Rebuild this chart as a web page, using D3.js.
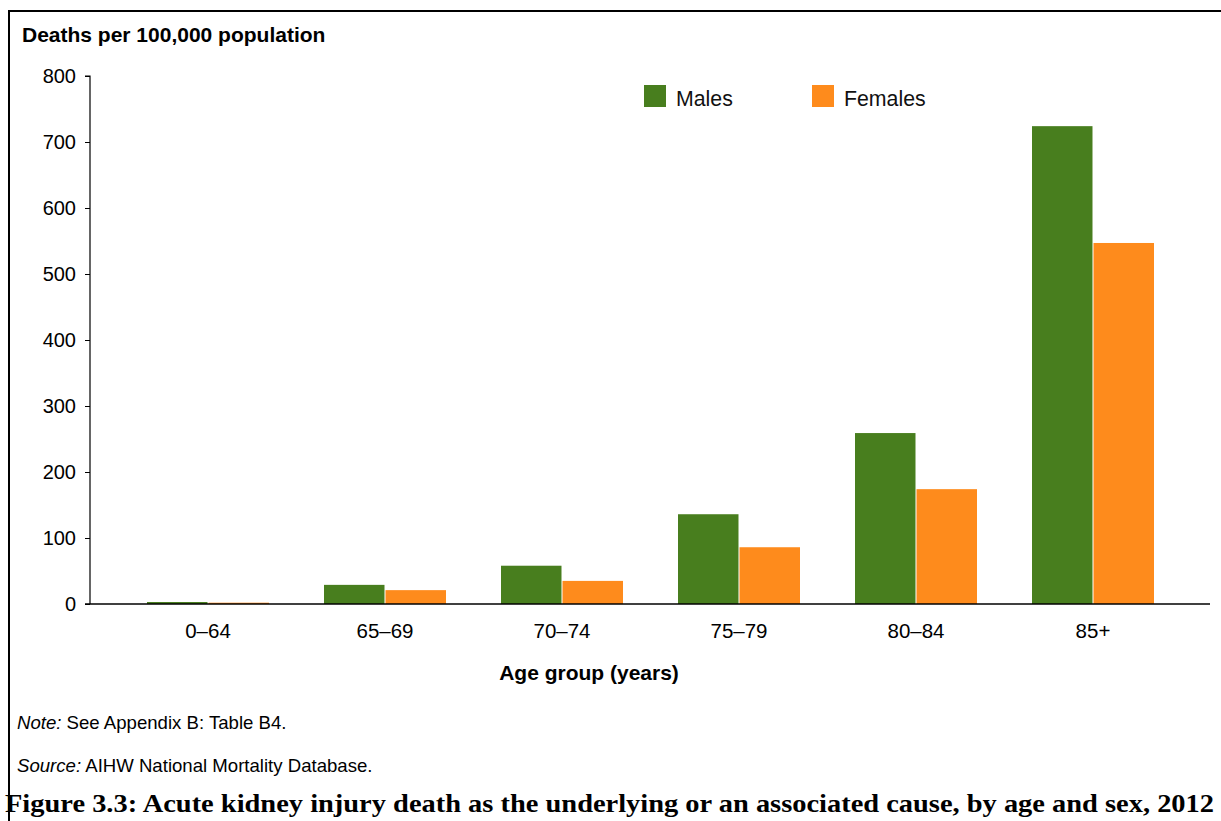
<!DOCTYPE html>
<html>
<head>
<meta charset="utf-8">
<script src="https://cdn.jsdelivr.net/npm/d3@7"></script>
<style>
  html, body { margin: 0; padding: 0; background: #fff; }
  svg { display: block; }
</style>
</head>
<body>
<svg id="chart" width="1221" height="821"></svg>
<script>
const categories = ["0–64", "65–69", "70–74", "75–79", "80–84", "85+"];
const males = [3, 29, 58, 136, 259, 724];
const females = [2, 21, 35, 86, 174, 547];
const seriesNames = ["Males", "Females"];
const yTicks = [0, 100, 200, 300, 400, 500, 600, 700, 800];

const colors = { Males: "#487e1e", Females: "#fe8b1c" };
const svg = d3.select("#chart");
const font = "'Liberation Sans', Arial, sans-serif";

// frame
svg.append("line").attr("x1", 8).attr("x2", 1221).attr("y1", 11).attr("y2", 11)
  .attr("stroke", "#000").attr("stroke-width", 2);
svg.append("line").attr("x1", 9).attr("x2", 9).attr("y1", 10).attr("y2", 821)
  .attr("stroke", "#000").attr("stroke-width", 2);

const y = d3.scaleLinear().domain([0, 800]).range([604, 76]);
const x = d3.scaleBand().domain(categories).range([119.5, 1181.5]).paddingInner(0).paddingOuter(0);
const sub = d3.scaleBand().domain(seriesNames).range([-61, 61]).paddingInner(2 / 122);

// y axis
const yAxis = svg.append("g").attr("transform", "translate(90,0)")
  .call(d3.axisLeft(y).tickValues(yTicks).tickSize(5).tickPadding(9).tickFormat(d3.format("d")));
yAxis.select(".domain").attr("d", "M-5," + y(800) + "H0V" + y(0)).attr("stroke", "#000").attr("stroke-width", 1.2);
yAxis.selectAll(".tick line").attr("stroke", "#000");
yAxis.selectAll(".tick text").attr("font-family", font).attr("font-size", 20).attr("fill", "#000");

// bars
const data = categories.map((c, i) => ({ cat: c, values: [{ k: "Males", v: males[i] }, { k: "Females", v: females[i] }] }));
const groups = svg.append("g").selectAll("g").data(data).join("g")
  .attr("transform", d => `translate(${x(d.cat) + x.bandwidth() / 2},0)`);
groups.selectAll("rect").data(d => d.values).join("rect")
  .attr("x", d => sub(d.k))
  .attr("width", sub.bandwidth())
  .attr("y", d => y(d.v))
  .attr("height", d => y(0) - y(d.v))
  .attr("fill", d => colors[d.k]);

// x axis
svg.append("line").attr("x1", 85).attr("x2", 1210).attr("y1", y(0)).attr("y2", y(0))
  .attr("stroke", "#000").attr("stroke-width", 1.5);
const xAxis = svg.append("g").attr("transform", `translate(0,${y(0)})`)
  .call(d3.axisBottom(x).tickSize(0).tickPadding(19));
xAxis.select(".domain").remove();
xAxis.selectAll(".tick text").attr("font-family", font).attr("font-size", 20.5).attr("fill", "#000");

// y title
svg.append("text").attr("x", 22).attr("y", 42).attr("font-family", font).attr("font-size", 21)
  .attr("font-weight", "bold").text("Deaths per 100,000 population");

// x title
svg.append("text").attr("x", 589).attr("y", 680).attr("text-anchor", "middle").attr("font-family", font)
  .attr("font-size", 21).attr("font-weight", "bold").text("Age group (years)");

// legend
const legendPos = [{ k: "Males", x: 644 }, { k: "Females", x: 812 }];
const lg = svg.append("g").selectAll("g").data(legendPos).join("g")
  .attr("transform", d => `translate(${d.x},85)`);
lg.append("rect").attr("width", 22).attr("height", 22).attr("fill", d => colors[d.k]);
lg.append("text").attr("x", 32).attr("y", 20.5).attr("font-family", font).attr("font-size", 21.3)
  .attr("fill", "#111").text(d => d.k);

// notes
const note = svg.append("text").attr("x", 17).attr("y", 729).attr("font-family", font).attr("font-size", 18.6);
note.append("tspan").attr("font-style", "italic").text("Note:");
note.append("tspan").text(" See Appendix B: Table B4.");
const src = svg.append("text").attr("x", 17).attr("y", 772).attr("font-family", font).attr("font-size", 18.6);
src.append("tspan").attr("font-style", "italic").text("Source:");
src.append("tspan").text(" AIHW National Mortality Database.");

// caption
svg.append("text").attr("x", 5).attr("y", 812).attr("font-family", "Liberation Serif")
  .attr("font-size", 25).attr("font-weight", "bold")
  .attr("textLength", 1209).attr("lengthAdjust", "spacingAndGlyphs")
  .text("Figure 3.3: Acute kidney injury death as the underlying or an associated cause, by age and sex, 2012");
</script>
</body>
</html>
